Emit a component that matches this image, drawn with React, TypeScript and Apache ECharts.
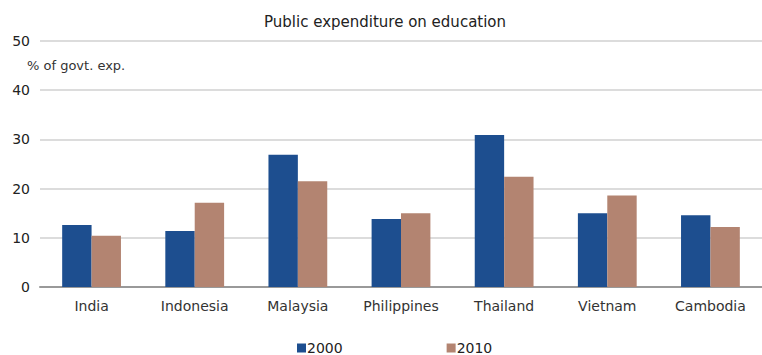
import React, { useEffect, useRef } from "react";
import * as echarts from "echarts";

const categories = ["India", "Indonesia", "Malaysia", "Philippines", "Thailand", "Vietnam", "Cambodia"];
const values2000 = [12.6, 11.4, 26.9, 13.8, 30.9, 15.0, 14.6];
const values2010 = [10.4, 17.1, 21.5, 15.0, 22.4, 18.6, 12.2];
const yTicks = [0, 10, 20, 30, 40, 50];

export default function App() {
  const ref = useRef<HTMLDivElement>(null);
  useEffect(() => {
    const chart = echarts.init(ref.current!, null, { renderer: "svg" });
    const font = "DejaVu Sans, sans-serif";
    chart.setOption({
      animation: false,
      backgroundColor: "#ffffff",
      title: {
        text: "Public expenditure on education",
        left: 259,
        top: 9,
        textStyle: { fontFamily: font, fontSize: 15, fontWeight: "normal", color: "#222" },
      },
      graphic: [
        {
          type: "text",
          left: 27,
          top: 59,
          style: { text: "% of govt. exp.", fontFamily: font, fontSize: 13, fill: "#333" },
        },
      ],
      legend: {
        left: 292,
        top: 336,
        itemWidth: 9,
        itemHeight: 9,
        itemGap: 104,
        icon: "rect",
        textStyle: { fontFamily: font, fontSize: 14, lineHeight: 14, color: "#222", padding: [0, 0, 0, -4] },
        data: ["2000", "2010"],
      },
      grid: { left: 40, right: -12, top: 41, bottom: 68, containLabel: false },
      xAxis: {
        type: "category",
        data: categories,
        axisTick: { show: false },
        axisLine: { lineStyle: { color: "#999", width: 2 } },
        axisLabel: { fontFamily: font, fontSize: 14, color: "#333", margin: 12 },
      },
      yAxis: {
        type: "value",
        min: yTicks[0],
        max: yTicks[yTicks.length - 1],
        interval: 10,
        axisLine: { show: false },
        axisTick: { show: false },
        splitLine: { lineStyle: { color: "#dcdcdc", width: 2 } },
        axisLabel: { fontFamily: font, fontSize: 14, color: "#222", margin: 10 },
      },
      series: [
        {
          name: "2000",
          type: "bar",
          data: values2000,
          itemStyle: { color: "#1d4e8f" },
          barGap: "0%",
          barCategoryGap: "43%",
        },
        {
          name: "2010",
          type: "bar",
          data: values2010,
          itemStyle: { color: "#b38471" },
        },
      ],
    });
    return () => chart.dispose();
  }, []);
  return <div ref={ref} style={{ position: "absolute", left: 0, top: 0, width: 762, height: 355 }} />;
}
